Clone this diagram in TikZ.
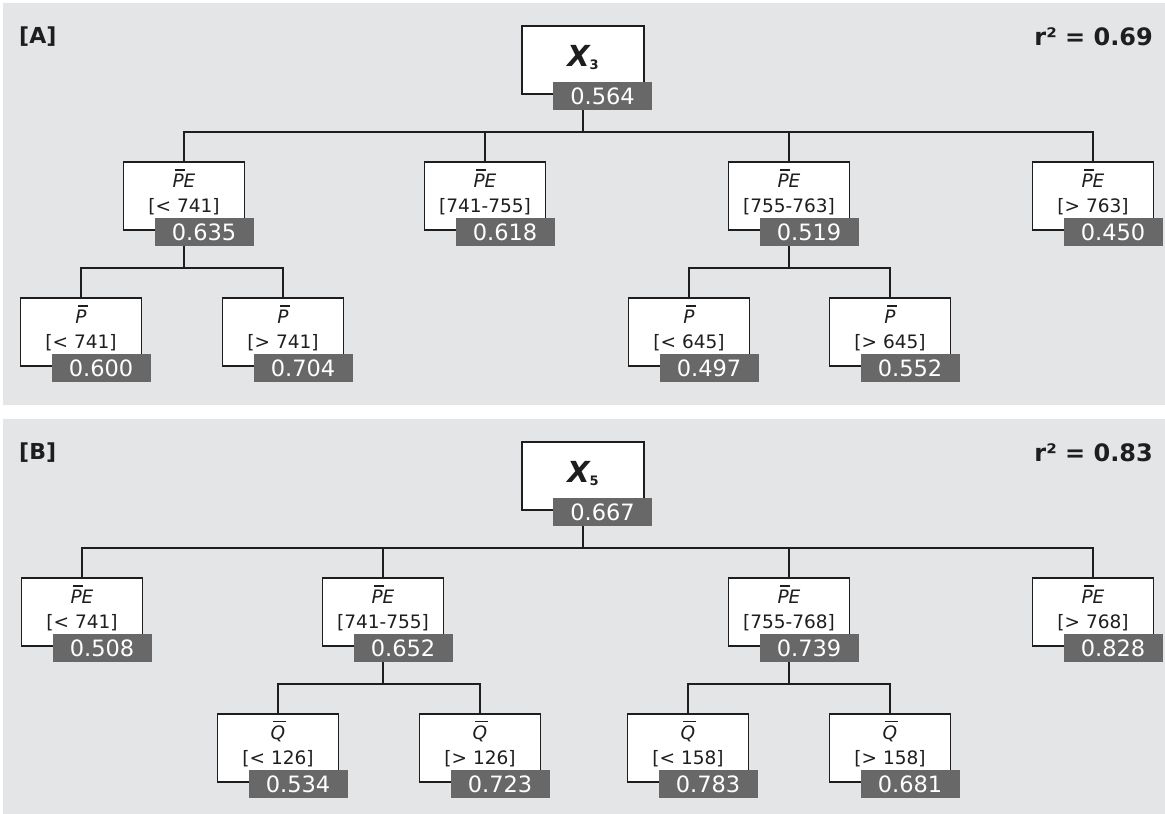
\documentclass[tikz,border=0pt]{standalone}
\usepackage{fontspec}
\setmainfont{DejaVu Sans}
\definecolor{panelbg}{HTML}{E4E5E7}
\definecolor{valbg}{HTML}{686868}
\definecolor{ink}{HTML}{1E1E1E}
\newcommand\PEbar{\textit{\makebox[0pt][l]{\hspace{0.13em}\rule[0.88em]{0.55em}{0.07em}}PE}}
\newcommand\Pbar{\textit{\makebox[0pt][l]{\hspace{0.13em}\rule[0.88em]{0.55em}{0.07em}}P}}
\newcommand\Qbar{\textit{\makebox[0pt][l]{\hspace{0.12em}\rule[0.93em]{0.7em}{0.07em}}Q}}
\newcommand\Xvar[1]{{\fontsize{29}{32}\selectfont\bfseries\itshape X}{\fontsize{13}{13}\selectfont\bfseries\raisebox{-3pt}{#1}}}
\tikzset{
  tbox/.style={draw=ink, line width=1.6pt, fill=white, minimum width=121pt, minimum height=68pt, inner sep=0pt},
  vbox/.style={fill=valbg, minimum width=99pt, minimum height=28pt, inner sep=0pt, text=white, font=\fontsize{22.5}{25}\selectfont},
  lbl/.style={anchor=base, inner sep=0pt, font=\fontsize{18.5}{21}\selectfont, text=ink},
  conn/.style={draw=ink, line width=1.5pt},
  panellbl/.style={inner sep=0pt, font=\fontsize{22}{25}\selectfont\bfseries, text=ink},
  rsq/.style={inner sep=0pt, font=\fontsize{24}{27}\selectfont\bfseries, text=ink}
}
\newcommand\leaf[6]{%
  \node[tbox] (#1) at ({#2},{#3+34}) {};
  \node[lbl] (#1a) at ({#2},{#3+25}) {#4};
  \node[lbl] (#1b) at ({#2},{#3+50}) {#5};
  \node[vbox] (#1v) at ({#2+20},{#3+70}) {#6};
}
\newcommand\rootnode[4]{%
  \node[tbox, minimum width=122pt] (#1) at ({#2},{#3+34}) {};
  \node[anchor=base, inner sep=0pt, text=ink] (#1t) at ({#2},{#3+40}) {\Xvar{#4}};
}
\begin{document}
\begin{tikzpicture}[x=1pt,y=-1pt]
\useasboundingbox (0,0) rectangle (1165,814);
\fill[white] (0,0) rectangle (1165,814);
\fill[panelbg] (3,3) rectangle (1165,405);
\fill[panelbg] (3,419) rectangle (1165,814);

% Panel A
\node[panellbl, anchor=west] (labA) at (19,37) {[A]};
\node[rsq, anchor=east] (rsqA) at (1153,37) {r² = 0.69};
\rootnode{rA}{583}{26}{3}
\node[vbox] (rAv) at (602.5,96) {0.564};
\leaf{a1}{184}{162}{\PEbar}{[< 741]}{0.635}
\leaf{a2}{485}{162}{\PEbar}{[741-755]}{0.618}
\leaf{a3}{789}{162}{\PEbar}{[755-763]}{0.519}
\leaf{a4}{1093}{162}{\PEbar}{[> 763]}{0.450}
\leaf{a11}{81}{298}{\Pbar}{[< 741]}{0.600}
\leaf{a12}{283}{298}{\Pbar}{[> 741]}{0.704}
\leaf{a31}{689}{298}{\Pbar}{[< 645]}{0.497}
\leaf{a32}{890}{298}{\Pbar}{[> 645]}{0.552}
\coordinate (busA) at (0,132);
\coordinate (busA1) at (0,268);
\coordinate (busA3) at (0,268);
\foreach \c in {a1,a2,a3,a4} \draw[conn] (rAv.south -| rA) -- (busA -| rA) -| (\c.north);
\foreach \c in {a11,a12} \draw[conn] (a1v.south -| a1) -- (busA1 -| a1) -| (\c.north);
\foreach \c in {a31,a32} \draw[conn] (a3v.south -| a3) -- (busA3 -| a3) -| (\c.north);

% Panel B
\node[panellbl, anchor=west] (labB) at (19,453) {[B]};
\node[rsq, anchor=east] (rsqB) at (1153,453) {r² = 0.83};
\rootnode{rB}{583}{442}{5}
\node[vbox] (rBv) at (602.5,512) {0.667};
\leaf{b1}{82}{578}{\PEbar}{[< 741]}{0.508}
\leaf{b2}{383}{578}{\PEbar}{[741-755]}{0.652}
\leaf{b3}{789}{578}{\PEbar}{[755-768]}{0.739}
\leaf{b4}{1093}{578}{\PEbar}{[> 768]}{0.828}
\leaf{b21}{278}{714}{\Qbar}{[< 126]}{0.534}
\leaf{b22}{480}{714}{\Qbar}{[> 126]}{0.723}
\leaf{b31}{688}{714}{\Qbar}{[< 158]}{0.783}
\leaf{b32}{890}{714}{\Qbar}{[> 158]}{0.681}
\coordinate (busB) at (0,548);
\coordinate (busB2) at (0,684);
\coordinate (busB3) at (0,684);
\foreach \c in {b1,b2,b3,b4} \draw[conn] (rBv.south -| rB) -- (busB -| rB) -| (\c.north);
\foreach \c in {b21,b22} \draw[conn] (b2v.south -| b2) -- (busB2 -| b2) -| (\c.north);
\foreach \c in {b31,b32} \draw[conn] (b3v.south -| b3) -- (busB3 -| b3) -| (\c.north);
\end{tikzpicture}
\end{document}
